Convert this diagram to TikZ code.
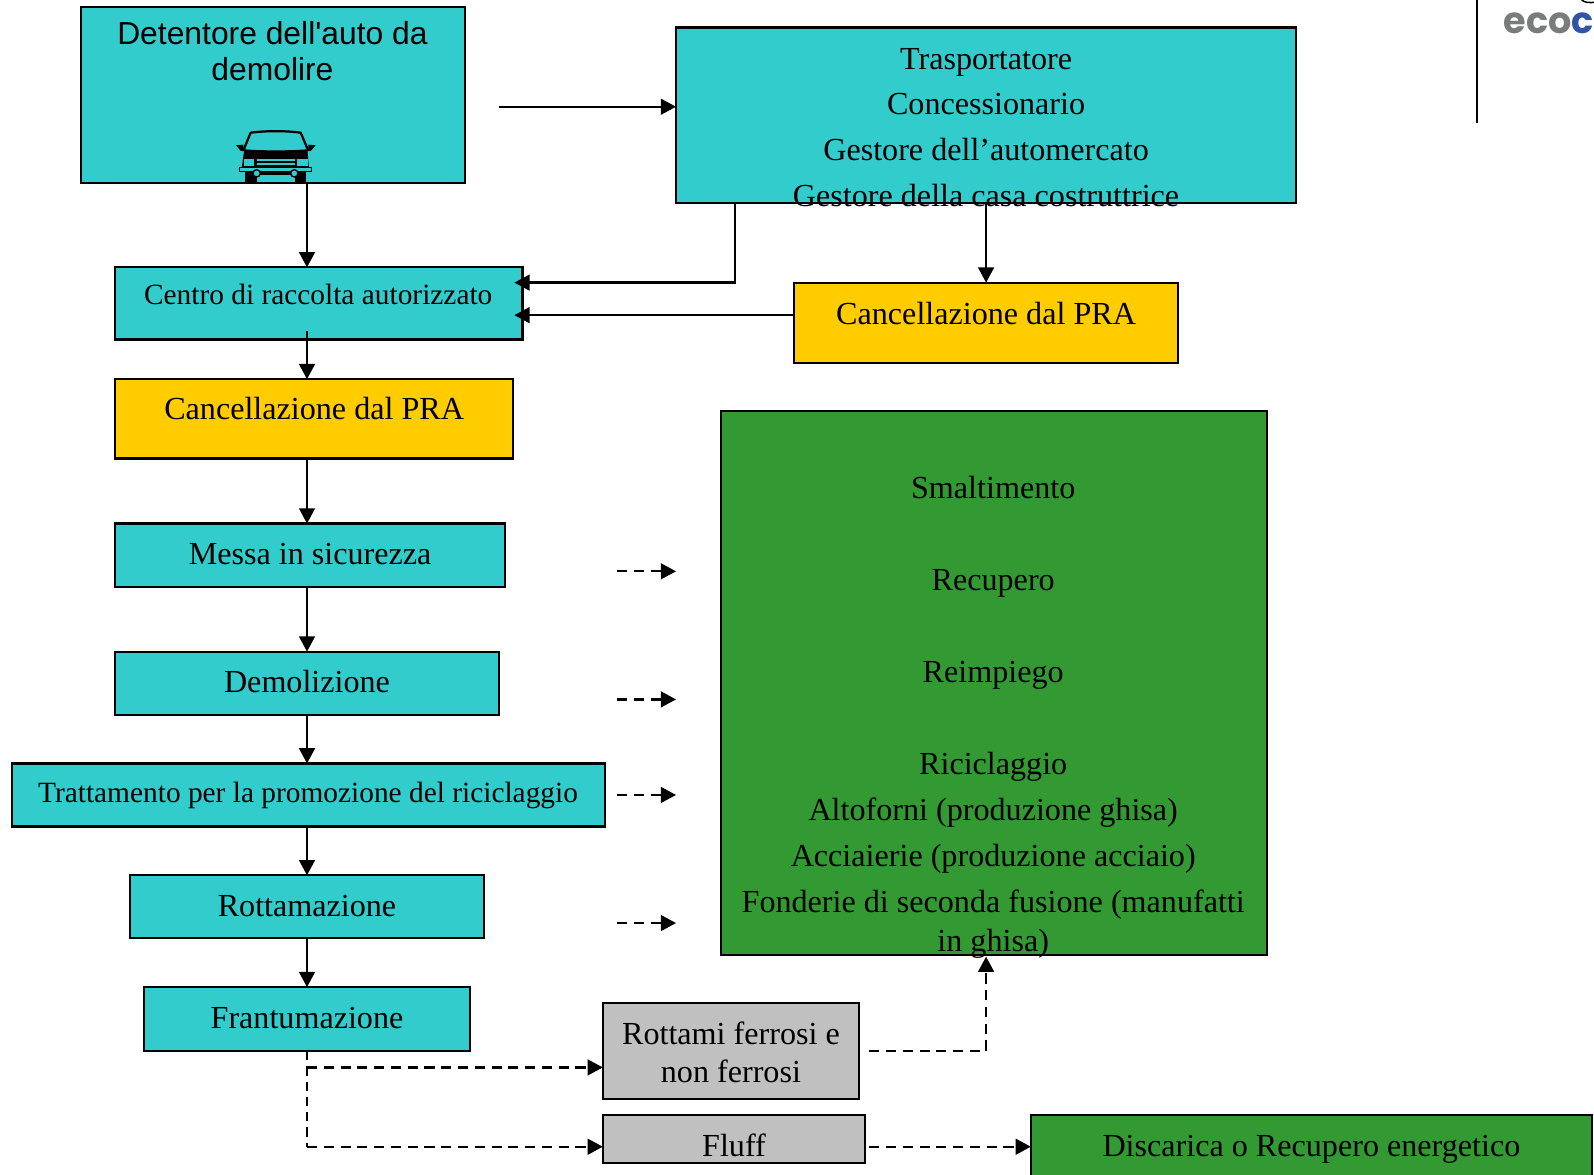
\documentclass[tikz,border=0pt]{standalone}
\usepackage{fontspec}
\setmainfont{Liberation Serif}
\newfontfamily\sansf{Liberation Sans}
\newfontfamily\logof{Poppins}
\usetikzlibrary{arrows.meta}
\definecolor{teal1}{HTML}{33CCCC}
\definecolor{yel1}{HTML}{FFCC00}
\definecolor{grn1}{HTML}{339933}
\definecolor{gry1}{HTML}{C0C0C0}
\definecolor{logog}{HTML}{7A7C7C}
\definecolor{logob}{HTML}{2F55A4}
\newcommand{\bx}[6]{\node[boxn,fill=#6,minimum width=#4pt-#2pt,minimum height=#5pt-#3pt] (#1) at ({(#2+#4)/2},{(#3+#5)/2}) {};}
\newcommand{\tx}[4]{\node[txt] (#1) at (#2,#3) {#4};}
\tikzset{
 x=1pt,y=-1pt,
 boxn/.style={draw=black,line width=2.1pt,inner sep=0pt,outer sep=0pt,rectangle},
 txt/.style={anchor=base,inner sep=0pt,font=\fontsize{31.6}{36}\selectfont},
 txtsm/.style={txt,font=\fontsize{28.9}{34}\selectfont},
 sans/.style={txt,font=\fontsize{31.3}{36}\sansf},
 arr/.style={line width=2.3pt,-{Triangle[length=15pt,width=15.5pt]}},
 darr/.style={arr,dash pattern=on 10pt off 6.5pt},
 dthin/.style={line width=1.6pt,dash pattern=on 9pt off 6pt}
}
\begin{document}
\begin{tikzpicture}
\useasboundingbox (0,0) rectangle (1568,1155.8);
\begin{scope}
\clip (0,0) rectangle (1568,1155.8);
\bx{det}{80}{7}{457}{180}{teal1}
\bx{tra}{665}{27}{1275}{200}{teal1}
\bx{cen}{113}{263}{514}{334}{teal1}
\bx{cana}{781}{278}{1159}{357}{yel1}
\bx{canb}{113}{373}{505}{451}{yel1}
\bx{mes}{113}{515}{497}{577}{teal1}
\bx{dem}{113}{641}{491}{703}{teal1}
\bx{trt}{12}{751}{595}{813}{teal1}
\bx{rot}{128}{861}{476}{923}{teal1}
\bx{fra}{142}{971}{462}{1034}{teal1}
\bx{grn}{709}{404}{1246}{939}{grn1}
\bx{rf}{593}{987}{845}{1081}{gry1}
\bx{flu}{593}{1097}{851}{1144}{gry1}
\bx{dis}{1014}{1097}{1566}{1170}{grn1}

% car
\begin{scope}[shift={(196.7,108.2)},x=.328pt,y=-.328pt]
\fill[black] (108,106) -- (130,104) -- (130,124) -- (122,122) -- cycle;
\fill[black] (347,106) -- (325,104) -- (325,124) -- (333,122) -- cycle;
\draw[line width=2.2pt,line join=round] (130,122) -- (152,68) .. controls (200,62) and (255,62) .. (302,68) -- (325,122);
\fill[black] (133,118) .. controls (190,122) and (265,122) .. (322,118) -- (327,175) -- (125,175) -- cycle;
\fill[teal1] (131,146) rectangle (163,168);
\fill[teal1] (292,146) rectangle (324,168);
\fill[teal1] (171,146) rectangle (284,152);
\fill[teal1] (171,158) rectangle (284,165);
\fill[black] (134,185) rectangle (170,223);
\fill[black] (284,185) rectangle (319,223);
\fill[black] (134,185) rectangle (319,194);
\draw[line width=1.3pt,fill=teal1] (119,172) rectangle (335,185);
\draw[line width=1.3pt,fill=teal1] (170,190) circle (11);
\draw[line width=1.3pt,fill=teal1] (283,190) circle (11);
\end{scope}

% logo
\coordinate (sep) at (1453,0);
\coordinate (sepb) at (1453,121);
\draw[line width=2pt] (sep) -- (sepb);
\node[anchor=base west,inner sep=0pt,font=\fontsize{36}{40}\logof\bfseries] (logo) at (1479,33) {\textcolor{logog}{eco}\textcolor{logob}{co}};
\draw[line width=1.5pt] (1555,-1) .. controls (1558,3) and (1564,3) .. (1570,2);

% texts
\node[sans] (t1) at (268,44) {Detentore dell'auto da};
\node[sans] (t2) at (268,79) {demolire};
\tx{t3}{970}{68}{Trasportatore}
\tx{t4}{970}{113}{Concessionario}
\tx{t5}{970}{158}{Gestore dell’automercato}
\tx{t6}{970}{203}{Gestore della casa costruttrice}
\node[txtsm] (t7) at (313,300) {Centro di raccolta autorizzato};
\tx{t8}{970}{319}{Cancellazione dal PRA}
\tx{t9}{309}{413}{Cancellazione dal PRA}
\tx{t10}{305}{555}{Messa in sicurezza}
\tx{t11}{302}{681}{Demolizione}
\node[txtsm] (t12) at (303,789) {Trattamento per la promozione del riciclaggio};
\tx{t13}{302}{902}{Rottamazione}
\tx{t14}{302}{1012}{Frantumazione}
\tx{t15}{977}{490}{Smaltimento}
\tx{t16}{977}{581}{Recupero}
\tx{t17}{977}{671}{Reimpiego}
\tx{t18}{977}{762}{Riciclaggio}
\tx{t19}{977}{807}{Altoforni (produzione ghisa)}
\tx{t20}{977}{852}{Acciaierie (produzione acciaio)}
\tx{t21}{977}{898}{Fonderie di seconda fusione (manufatti}
\tx{t22}{977}{936}{in ghisa)}
\tx{t23}{719}{1027}{Rottami ferrosi e}
\tx{t24}{719}{1065}{non ferrosi}
\tx{t25}{722}{1138}{Fluff}
\tx{t26}{1290}{1138}{Discarica o Recupero energetico}

% connector helpers
\coordinate (sp) at (302,0);
\coordinate (a0) at (491,105);
\coordinate (a1) at (723,0);
\coordinate (a2) at (506,278);
\coordinate (a3) at (506,310);
\coordinate (a4) at (970,0);
\coordinate (cs) at (302,326);
\foreach \n/\y in {d1/562,d2/688,d3/782,d4/908}{
  \coordinate (\n s) at (607,\y);
  \coordinate (\n e) at (665,\y);
}
\coordinate (f1) at (302,1050);
\coordinate (f2) at (302,1128);
\coordinate (r0) at (855,1034);
\coordinate (r1) at (970,1034);
\coordinate (r2) at (970,941);
\coordinate (u0) at (855,1128);

% solid connectors
\draw[arr] (a0) -- (a0 -| tra.west);
\draw[arr] (det.south -| sp) -- (cen.north -| sp);
\draw[arr] (cs) -- (canb.north -| sp);
\draw[arr] (canb.south -| sp) -- (mes.north -| sp);
\draw[arr] (mes.south -| sp) -- (dem.north -| sp);
\draw[arr] (dem.south -| sp) -- (trt.north -| sp);
\draw[arr] (trt.south -| sp) -- (rot.north -| sp);
\draw[arr] (rot.south -| sp) -- (fra.north -| sp);
\draw[arr] (tra.south -| a1) -- (a1 |- a2) -- (a2);
\draw[arr] (a3 -| cana.west) -- (a3);
\draw[arr] (tra.south -| a4) -- (cana.north -| a4);

% dashed connectors
\foreach \n in {d1,d2,d3,d4}{ \draw[darr] (\n s) -- (\n e); }
\draw[dthin] (fra.south -| sp) -- (f2);
\draw[darr] (f1) -- (f1 -| rf.west);
\draw[darr] (f2) -- (f2 -| flu.west);
\draw[darr] (r0) -- (r1) -- (r2);
\draw[darr] (u0) -- (u0 -| dis.west);
\end{scope}
\end{tikzpicture}
\end{document}
